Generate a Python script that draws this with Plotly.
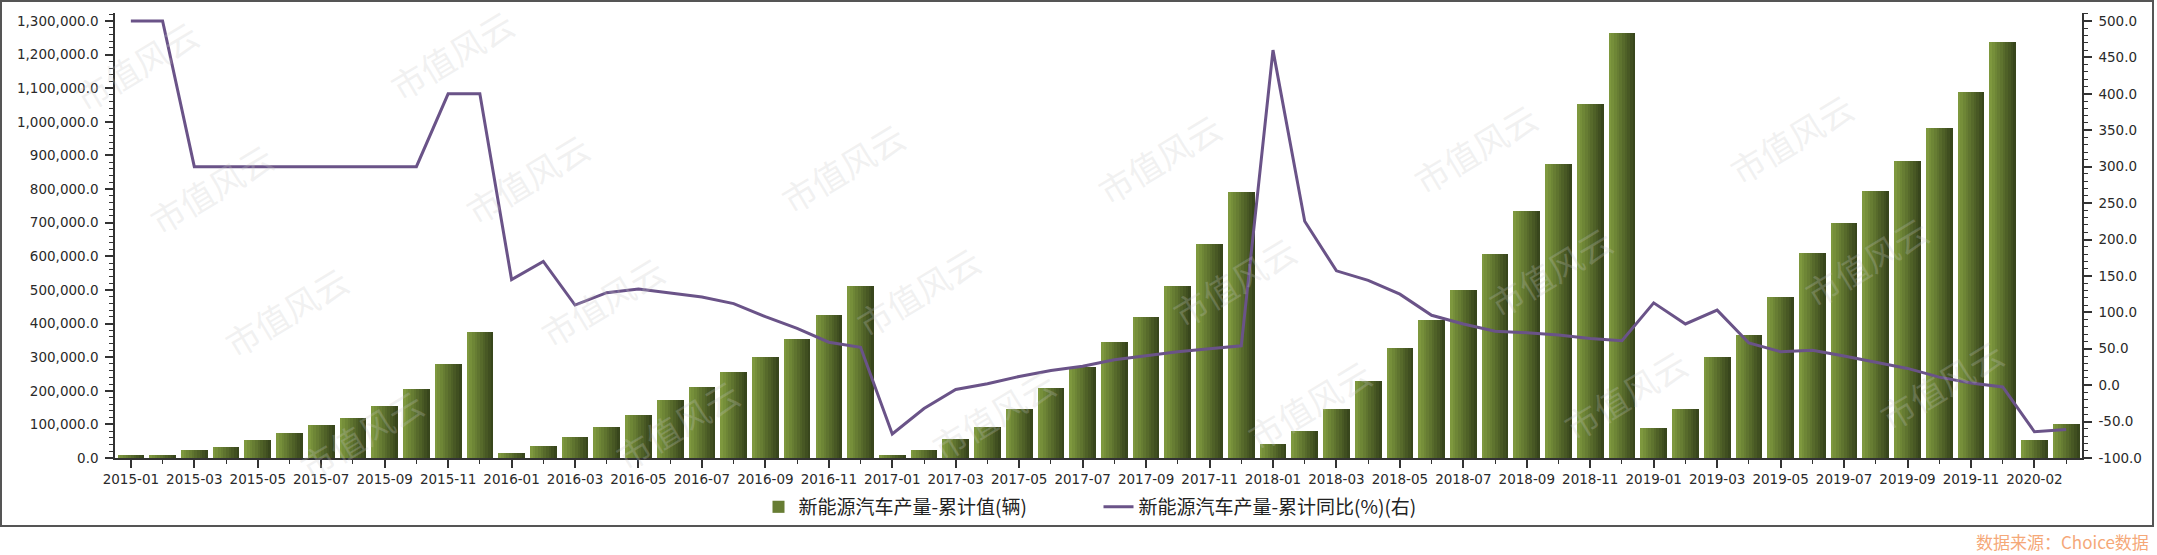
import plotly.graph_objects as go

# ---------------- data ----------------
months = [
    "2015-01","2015-02","2015-03","2015-04","2015-05","2015-06","2015-07","2015-08","2015-09","2015-10","2015-11","2015-12",
    "2016-01","2016-02","2016-03","2016-04","2016-05","2016-06","2016-07","2016-08","2016-09","2016-10","2016-11","2016-12",
    "2017-01","2017-02","2017-03","2017-04","2017-05","2017-06","2017-07","2017-08","2017-09","2017-10","2017-11","2017-12",
    "2018-01","2018-02","2018-03","2018-04","2018-05","2018-06","2018-07","2018-08","2018-09","2018-10","2018-11","2018-12",
    "2019-01","2019-02","2019-03","2019-04","2019-05","2019-06","2019-07","2019-08","2019-09","2019-10","2019-11","2019-12",
    "2020-02","2020-03",
]
production_cum = [
    9000, 9000, 22800, 31700, 53500, 75400, 97200, 120000, 155600, 204200, 279600, 375800,
    14900, 36700, 63500, 93200, 128900, 173500, 212200, 256800, 301400, 354000, 425300, 512600,
    10000, 22800, 57500, 93200, 146700, 208200, 269700, 345000, 420400, 512600, 636500, 791200,
    40600, 80300, 146700, 230000, 327200, 411500, 499700, 605800, 733700, 874500, 1052000, 1264000,
    89200, 146700, 301400, 366800, 477900, 609700, 699000, 795100, 883400, 981600, 1087600, 1237400,
    53500, 102100,
]
yoy_pct = [
    500, 500, 300, 300, 300, 300, 300, 300, 300, 300, 400, 400,
    145, 170, 110, 127, 132, 126, 121, 112, 94, 78, 59, 52,
    -67, -32, -6, 2, 12, 20, 26, 35, 41, 46, 50, 54,
    460, 225, 157, 144, 125, 96, 84, 74, 72, 69, 64, 61,
    113, 84, 103, 58, 46, 48, 40, 32, 23, 11, 3, -2.5,
    -64, -61,
]
left_ticks = [0, 100000, 200000, 300000, 400000, 500000, 600000, 700000,
              800000, 900000, 1000000, 1100000, 1200000, 1300000]
right_ticks = [-100, -50, 0, 50, 100, 150, 200, 250, 300, 350, 400, 450, 500]
bar_name = "新能源汽车产量-累计值(辆)"
line_name = "新能源汽车产量-累计同比(%)(右)"
source_text = "数据来源：Choice数据"
watermark_text = "市值风云"

# ---------------- layout geometry (pixels) ----------------
W, H = 2157, 555
ML, MR, MT, MB = 115, 75, 13, 97
PW, PH = W - ML - MR, H - MT - MB
BASE_Y, TOP_Y = 458, 21   # pixel rows of the 0 / 1,300,000 ticks


def px2paper(px, py):
    return (px - ML) / PW, 1 - (py - MT) / PH


y1_max = 1300000 * (BASE_Y - MT) / (BASE_Y - TOP_Y)
y2_max = -100 + 600 * (BASE_Y - MT) / (BASE_Y - TOP_Y)

xs = list(range(len(months)))

fig = go.Figure()

# gradient bars emulated with narrow stripes
n_str = 10
bar_w = 0.84
c0 = (126, 152, 62)
c1 = (56, 70, 28)
sw = bar_w / n_str
for k in range(n_str):
    t = k / (n_str - 1)
    col = tuple(int(round(c0[i] + (c1[i] - c0[i]) * t)) for i in range(3))
    fig.add_trace(go.Bar(
        x=xs, y=production_cum,
        width=sw * 1.02, offset=-bar_w / 2 + k * sw,
        marker=dict(color="rgb(%d,%d,%d)" % col, line=dict(width=0)),
        name=bar_name, legendgroup="bar", showlegend=(k == 3),
        hoverinfo="skip" if k else None,
    ))

fig.add_trace(go.Scatter(
    x=xs, y=yoy_pct, yaxis="y2", mode="lines",
    line=dict(color="#6a5388", width=3),
    name=line_name, cliponaxis=False,
))

tickfont = dict(family="DejaVu Sans", size=13.5, color="#2a2a2a")

fig.update_layout(
    width=W, height=H,
    margin=dict(l=ML, r=MR, t=MT, b=MB, pad=0),
    paper_bgcolor="white", plot_bgcolor="white",
    barmode="overlay", bargap=0,
    showlegend=True,
    legend=dict(orientation="h", x=0.5, xanchor="center", y=px2paper(0, 507)[1],
                yanchor="middle", font=dict(family="Noto Sans CJK SC", size=19, color="#222"),
                itemwidth=30, entrywidth=295, entrywidthmode="pixels",
                traceorder="normal", bgcolor="rgba(0,0,0,0)"),
    xaxis=dict(
        range=[-0.5, len(months) - 0.5], showgrid=False, zeroline=False,
        tickmode="array", tickvals=xs[::2], ticktext=months[::2],
        ticks="outside", ticklen=8, tickwidth=1.5, tickcolor="#333",
        showline=True, linecolor="#333", linewidth=1.5,
        tickfont=tickfont,
        minor=dict(tickmode="linear", tick0=0, dtick=1, ticks="outside", ticklen=4,
                   tickwidth=1.2, tickcolor="#333", showgrid=False),
    ),
    yaxis=dict(
        range=[0, y1_max], showgrid=False, zeroline=False,
        tickmode="array", tickvals=left_ticks,
        ticktext=[f"{v:,.1f}" for v in left_ticks],
        ticks="outside", ticklen=8, tickwidth=1.5, tickcolor="#333",
        showline=True, linecolor="#333", linewidth=1.5,
        tickfont=tickfont, ticklabelstandoff=4,
        minor=dict(tickmode="linear", tick0=0, dtick=20000, ticks="outside", ticklen=4,
                   tickwidth=1.2, tickcolor="#333", showgrid=False),
    ),
    yaxis2=dict(
        range=[-100, y2_max], overlaying="y", side="right", showgrid=False, zeroline=False,
        tickmode="array", tickvals=right_ticks,
        ticktext=[f"{v:.1f}" for v in right_ticks],
        ticks="outside", ticklen=8, tickwidth=1.5, tickcolor="#333",
        showline=True, linecolor="#333", linewidth=1.5,
        tickfont=tickfont, ticklabelstandoff=4,
        minor=dict(tickmode="linear", tick0=-100, dtick=10, ticks="outside", ticklen=4,
                   tickwidth=1.2, tickcolor="#333", showgrid=False),
    ),
)

# outer frame
fx0, fy0 = px2paper(1, 1)
fx1, fy1 = px2paper(2153, 526)
fig.add_shape(type="rect", xref="paper", yref="paper", x0=fx0, y0=fy1, x1=fx1, y1=fy0,
              line=dict(color="#555", width=2), fillcolor="rgba(0,0,0,0)", layer="above")

annotations = []
# tiled watermark (only copies that fit entirely inside the picture)
ox, oy = 452, 55
ax_, ay_ = 316, -10
bx_, by_ = 75, 123
half_w, half_h = 68, 50
for i in range(-4, 10):
    for j in range(-3, 7):
        px = ox + i * ax_ + j * bx_
        py = oy + i * ay_ + j * by_
        if half_w < px < W - half_w and half_h < py < H - half_h:
            x, y = px2paper(px, py)
            annotations.append(dict(
                text=watermark_text, x=x, y=y, xref="paper", yref="paper",
                showarrow=False, textangle=-31, xanchor="center", yanchor="middle",
                font=dict(family="Noto Sans CJK SC", size=34, color="rgba(200,200,200,0.25)"),
            ))

sx, sy = px2paper(2151, 541)
annotations.append(dict(
    text=source_text, x=sx, y=sy, xref="paper", yref="paper", showarrow=False,
    xanchor="right", yanchor="middle",
    font=dict(family="Noto Sans CJK SC", size=17, color="#f5a878"),
))
fig.update_layout(annotations=annotations)

fig.write_html("out.html")
